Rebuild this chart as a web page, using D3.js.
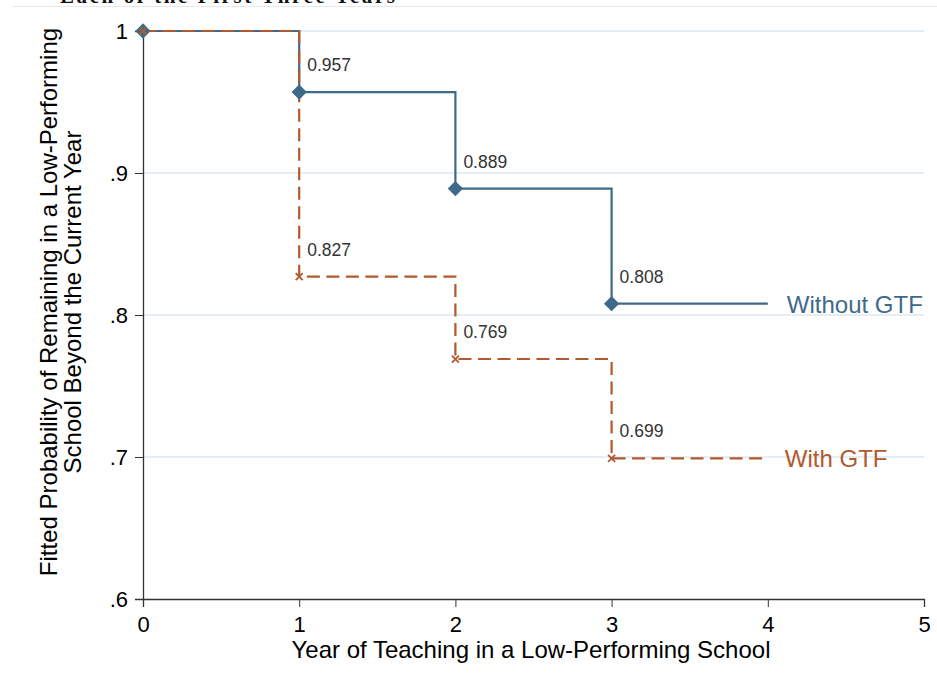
<!DOCTYPE html>
<html>
<head>
<meta charset="utf-8">
<script src="https://cdn.jsdelivr.net/npm/d3@7"></script>
<style>
  body { margin: 0; background: #fff; }
  svg { display: block; font-family: "Liberation Sans", Arial, sans-serif; }
</style>
</head>
<body>
<div id="chart"></div>
<script>
// data
const years = [0, 1, 2, 3];
const withoutGTF = [1, 0.957, 0.889, 0.808];
const withGTF = [1, 0.827, 0.769, 0.699];
const lastYear = 4;
const yTicks = [0.6, 0.7, 0.8, 0.9, 1];
const xTicks = [0, 1, 2, 3, 4, 5];
const seriesNames = ['Without GTF', 'With GTF'];

const width = 937, height = 681;
const svg = d3.select('#chart').append('svg')
    .attr('width', width)
    .attr('height', height);

const x = d3.scaleLinear().domain([0, 5]).range([143, 924]);
const y = d3.scaleLinear().domain([0.6, 1]).range([599, 31]);

const blue = '#3e6a8a';
const rust = '#b2592d';

// cut-off title line at the very top (it is cut in the original too)
svg.append('text')
    .attr('x', 60)
    .attr('y', 3)
    .attr('font-family', '"Liberation Serif", "Times New Roman", serif')
    .attr('font-weight', 'bold')
    .attr('font-size', 21)
    .attr('textLength', 335)
    .attr('fill', '#111')
    .text('Each of the First Three Years');

svg.append('line')
    .attr('x1', 12).attr('x2', width)
    .attr('y1', 6.5).attr('y2', 6.5)
    .attr('stroke', '#e4e9ec').attr('stroke-width', 1);

// gridlines
svg.append('g')
    .selectAll('line')
    .data(yTicks.slice(1))
    .enter()
    .append('line')
    .attr('x1', x(0)).attr('x2', x(5))
    .attr('y1', d => y(d)).attr('y2', d => y(d))
    .attr('stroke', '#e6eef3')
    .attr('stroke-width', 2);

// axes
const yAxis = svg.append('g')
    .attr('transform', `translate(${x(0)},0)`)
    .call(d3.axisLeft(y).tickValues(yTicks)
        .tickFormat(d => d === 1 ? '1' : d3.format('.1f')(d).replace(/^0/, ''))
        .tickSize(8).tickPadding(7));
yAxis.select('.domain').attr('stroke', '#333').attr('stroke-width', 1.3);
yAxis.selectAll('.tick line').attr('stroke', '#333');
yAxis.selectAll('text').attr('font-size', 22).attr('fill', '#000')
    .attr('font-family', '"Liberation Sans", Arial, sans-serif');

const xAxis = svg.append('g')
    .attr('transform', `translate(0,${y(0.6)})`)
    .call(d3.axisBottom(x).tickValues(xTicks).tickFormat(d3.format('d'))
        .tickSize(8).tickPadding(9));
xAxis.select('.domain').attr('stroke', '#333').attr('stroke-width', 1.3);
xAxis.selectAll('.tick line').attr('stroke', '#333');
xAxis.selectAll('text').attr('font-size', 22).attr('fill', '#000')
    .attr('font-family', '"Liberation Sans", Arial, sans-serif');

// axis titles
svg.append('text')
    .attr('x', 531)
    .attr('y', 658)
    .attr('text-anchor', 'middle')
    .attr('font-size', 24)
    .attr('fill', '#000')
    .text('Year of Teaching in a Low-Performing School');

const yTitle = svg.append('text')
    .attr('transform', 'translate(57,302) rotate(-90)')
    .attr('text-anchor', 'middle')
    .attr('font-size', 24)
    .attr('fill', '#000');
yTitle.append('tspan').attr('x', 0).attr('dy', 0)
    .text('Fitted Probability of Remaining in a Low-Performing');
yTitle.append('tspan').attr('x', 0).attr('dy', 24)
    .text('School Beyond the Current Year');

// step lines
function stepPoints(vals) {
    const pts = vals.map((v, i) => [years[i], v]);
    pts.push([lastYear, vals[vals.length - 1]]);
    return pts;
}
const line = d3.line()
    .x(d => x(d[0]))
    .y(d => y(d[1]))
    .curve(d3.curveStepAfter);

svg.append('path')
    .datum(stepPoints(withoutGTF))
    .attr('d', line)
    .attr('fill', 'none')
    .attr('stroke', blue)
    .attr('stroke-width', 2.2);

svg.append('path')
    .datum(stepPoints(withGTF))
    .attr('d', line)
    .attr('fill', 'none')
    .attr('stroke', rust)
    .attr('stroke-width', 2.2)
    .attr('stroke-dasharray', '13,6.5');

// markers
svg.append('g')
    .selectAll('path')
    .data(withoutGTF)
    .enter()
    .append('path')
    .attr('transform', (d, i) => `translate(${x(years[i])},${y(d)}) rotate(45)`)
    .attr('d', 'M-5.4,-5.4H5.4V5.4H-5.4Z')
    .attr('fill', blue);

svg.append('g')
    .selectAll('path')
    .data(withGTF)
    .enter()
    .append('path')
    .attr('transform', (d, i) => `translate(${x(years[i])},${y(d)})`)
    .attr('d', 'M-3.5,-3.5L3.5,3.5M-3.5,3.5L3.5,-3.5')
    .attr('stroke', rust)
    .attr('stroke-width', 1.8);

// value labels
const labelData = [];
years.forEach((yr, i) => {
    if (yr === 0) return;
    labelData.push({ yr: yr, v: withoutGTF[i] });
    labelData.push({ yr: yr, v: withGTF[i] });
});
svg.append('g')
    .selectAll('text')
    .data(labelData)
    .enter()
    .append('text')
    .attr('x', d => x(d.yr) + 8)
    .attr('y', d => y(d.v) - 21)
    .attr('font-size', 17.5)
    .attr('fill', '#333')
    .text(d => d3.format('.3f')(d.v));

// series labels at line ends
svg.append('text')
    .attr('x', x(lastYear) + 19)
    .attr('y', y(withoutGTF[3]) + 9)
    .attr('font-size', 24)
    .attr('fill', blue)
    .text(seriesNames[0]);

svg.append('text')
    .attr('x', x(lastYear) + 17)
    .attr('y', y(withGTF[3]) + 9)
    .attr('font-size', 24)
    .attr('fill', rust)
    .text(seriesNames[1]);
</script>
</body>
</html>
